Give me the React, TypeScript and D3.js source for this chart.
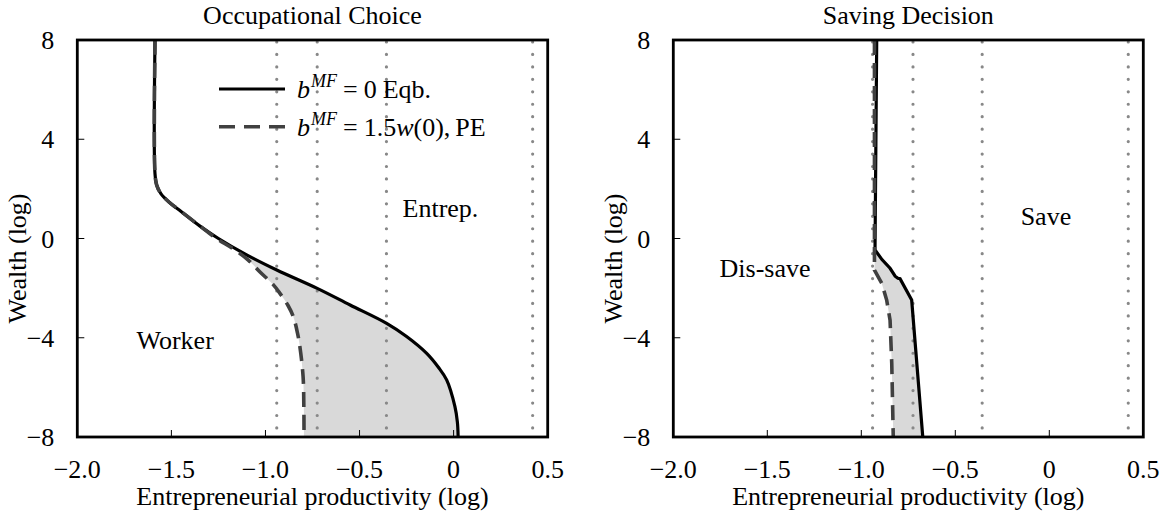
import React from "react";
import * as d3 from "d3";

// ---------- data ----------
const xTicks = [-2.0, -1.5, -1.0, -0.5, 0, 0.5];
const yTicks = [-8, -4, 0, 4, 8];
const refLines = [-0.94, -0.725, -0.357, 0.42];

// Occupational choice: threshold productivity by wealth
const occSolidProd = [-1.587, -1.587, -1.578, -1.555, -1.51, -1.45, -1.348, -1.25, -1.1, -0.94, -0.725, -0.55, -0.356, -0.25, -0.143, -0.08, -0.037, 0.007, 0.02, 0.024];
const occSolidWealth = [8, 2.6, 2.15, 1.8, 1.45, 1.1, 0.5, 0.0, -0.66, -1.27, -2.01, -2.68, -3.42, -3.95, -4.63, -5.2, -5.7, -6.78, -7.4, -8];
const occDashProd = [-1.587, -1.587, -1.578, -1.555, -1.51, -1.45, -1.348, -1.26, -1.171, -1.09, -1.029, -0.96, -0.923, -0.88, -0.852, -0.83, -0.817, -0.8, -0.796, -0.795];
const occDashWealth = [8, 2.6, 2.15, 1.8, 1.45, 1.1, 0.5, 0.0, -0.42, -0.88, -1.35, -1.85, -2.21, -2.7, -3.15, -3.8, -4.36, -5.57, -6.8, -8];
const occFillFrom = 0.5;

// Saving decision
const savSolidProd = [-0.918, -0.927, -0.89, -0.847, -0.82, -0.805, -0.794, -0.732, -0.673];
const savSolidWealth = [8, -0.46, -0.85, -1.2, -1.52, -1.6, -1.62, -2.48, -8];
const savDashProd = [-0.93, -0.93, -0.891, -0.865, -0.847, -0.838, -0.83];
const savDashWealth = [8, -1.27, -1.81, -2.48, -3.29, -5.03, -8];
const savFillFrom = -0.46;

const panelTitles = ["Occupational Choice", "Saving Decision"];
const regionLabels = [
  [{ text: "Worker", x: -1.48, y: -4.09 }, { text: "Entrep.", x: -0.07, y: 1.23 }],
  [{ text: "Dis-save", x: -1.512, y: -1.19 }, { text: "Save", x: -0.018, y: 0.91 }],
];
const xLabel = "Entrepreneurial productivity (log)";
const yLabel = "Wealth (log)";

// ---------- layout ----------
const W = 1167;
const H = 518;
const TOP = 40;
const BOTTOM = 437;
const panels = [
  { x0: 77.3, x1: 547.7 },
  { x0: 673.3, x1: 1143.3 },
];
const FONT = "Liberation Serif, DejaVu Serif, serif";
const FS = 26;
const DASH_COLOR = "#404040";
const FILL = "#d9d9d9";

type P = [number, number];
const zip = (xs: number[], ys: number[]): P[] => xs.map((x, i) => [x, ys[i]]);

const fmt = (v: number, dec: number) => {
  const s = Math.abs(v).toFixed(dec);
  return v < 0 ? "\u2212" + s : s;
};

function Panel({ idx }: { idx: number }) {
  const { x0, x1 } = panels[idx];
  const x = d3.scaleLinear().domain([-2, 0.5]).range([x0, x1]);
  const y = d3.scaleLinear().domain([-8, 8]).range([BOTTOM, TOP]);

  const solid = idx === 0 ? zip(occSolidProd, occSolidWealth) : zip(savSolidProd, savSolidWealth);
  const dashed = idx === 0 ? zip(occDashProd, occDashWealth) : zip(savDashProd, savDashWealth);
  const fillFrom = idx === 0 ? occFillFrom : savFillFrom;

  const curve = idx === 0 ? d3.curveCatmullRom.alpha(0.5) : d3.curveLinear;
  const line = d3
    .line<P>()
    .x((d) => x(d[0]))
    .y((d) => y(d[1]))
    .curve(curve);

  const dashPart = dashed.filter((d) => d[1] <= fillFrom + 1e-9);
  const solidPart = solid.filter((d) => d[1] <= fillFrom + 1e-9);
  const leftEdge = line(dashPart) || "";
  const rightEdgeRev = line(solidPart.slice().reverse()) || "";
  const fillPath = leftEdge + "L" + rightEdgeRev.slice(1) + "Z";

  const cx = (x0 + x1) / 2;

  return (
    <g>
      <defs>
        <clipPath id={"clip" + idx}>
          <rect x={x0} y={TOP} width={x1 - x0} height={BOTTOM - TOP} />
        </clipPath>
      </defs>
      <g clipPath={`url(#clip${idx})`}>
        <path d={fillPath} fill={FILL} stroke="none" />
        {refLines.map((v, i) => (
          <line
            key={i}
            x1={x(v)}
            x2={x(v)}
            y1={TOP + 2}
            y2={BOTTOM}
            stroke="#888"
            strokeWidth={3.2}
            strokeLinecap="round"
            strokeDasharray="0 12.45"
          />
        ))}
        <path d={line(solid) || ""} fill="none" stroke="#000" strokeWidth={3.2} />
        <path
          d={line(dashed) || ""}
          fill="none"
          stroke={DASH_COLOR}
          strokeWidth={3.6}
          strokeDasharray="15 8"
        />
      </g>
      {xTicks.map((t, i) => (
        <line key={"xt" + i} x1={x(t)} x2={x(t)} y1={BOTTOM} y2={BOTTOM - 7} stroke="#000" strokeWidth={1} />
      ))}
      {yTicks.map((t, i) => (
        <line key={"yt" + i} x1={x0} x2={x0 + 7} y1={y(t)} y2={y(t)} stroke="#000" strokeWidth={1} />
      ))}
      <rect x={x0} y={TOP} width={x1 - x0} height={BOTTOM - TOP} fill="none" stroke="#000" strokeWidth={2.8} />
      {xTicks.map((t, i) => (
        <text key={"xl" + i} x={x(t)} y={BOTTOM + 41} textAnchor="middle" fontFamily={FONT} fontSize={FS}>
          {t === 0 ? "0" : fmt(t, 1)}
        </text>
      ))}
      {yTicks.map((t, i) => (
        <text key={"yl" + i} x={x0 - 23} y={y(t) + 9} textAnchor="end" fontFamily={FONT} fontSize={FS}>
          {fmt(t, 0)}
        </text>
      ))}
      <text x={cx} y={505} textAnchor="middle" fontFamily={FONT} fontSize={FS}>
        {xLabel}
      </text>
      <text
        transform={`translate(${x0 - 51},${(TOP + BOTTOM) / 2 + 20}) rotate(-90)`}
        textAnchor="middle"
        fontFamily={FONT}
        fontSize={FS}
      >
        {yLabel}
      </text>
      <text x={cx} y={24} textAnchor="middle" fontFamily={FONT} fontSize={FS}>
        {panelTitles[idx]}
      </text>
      {regionLabels[idx].map((l, i) => (
        <text key={"rl" + i} x={x(l.x)} y={y(l.y) + 9} textAnchor="middle" fontFamily={FONT} fontSize={FS}>
          {l.text}
        </text>
      ))}
    </g>
  );
}

function Legend() {
  const lx0 = 219;
  const lx1 = 285;
  const ys = [89, 126.7];
  const tx = 297;
  return (
    <g fontFamily={FONT} fontSize={FS}>
      <line x1={lx0} x2={lx1} y1={ys[0]} y2={ys[0]} stroke="#000" strokeWidth={3.2} />
      <line x1={lx0} x2={lx1} y1={ys[1]} y2={ys[1]} stroke={DASH_COLOR} strokeWidth={3.6} strokeDasharray="16 9" />
      <text x={tx} y={ys[0] + 9}>
        <tspan fontStyle="italic">b</tspan>
        <tspan fontStyle="italic" fontSize={18} dy={-11} dx={1}>MF</tspan>
        <tspan dy={11} dx={6}>=</tspan>
        <tspan dx={6}>0</tspan>
        <tspan dx={6}>Eqb.</tspan>
      </text>
      <text x={tx} y={ys[1] + 9}>
        <tspan fontStyle="italic">b</tspan>
        <tspan fontStyle="italic" fontSize={18} dy={-11} dx={1}>MF</tspan>
        <tspan dy={11} dx={6}>=</tspan>
        <tspan dx={6}>1.5</tspan>
        <tspan fontStyle="italic">w</tspan>
        <tspan>(0),</tspan>
        <tspan dx={5}>PE</tspan>
      </text>
    </g>
  );
}

export default function App() {
  return (
    <svg width={W} height={H} style={{ position: "absolute", left: 0, top: 0, background: "#fff" }}>
      <rect x={0} y={0} width={W} height={H} fill="#fff" />
      <Panel idx={0} />
      <Panel idx={1} />
      <Legend />
    </svg>
  );
}
